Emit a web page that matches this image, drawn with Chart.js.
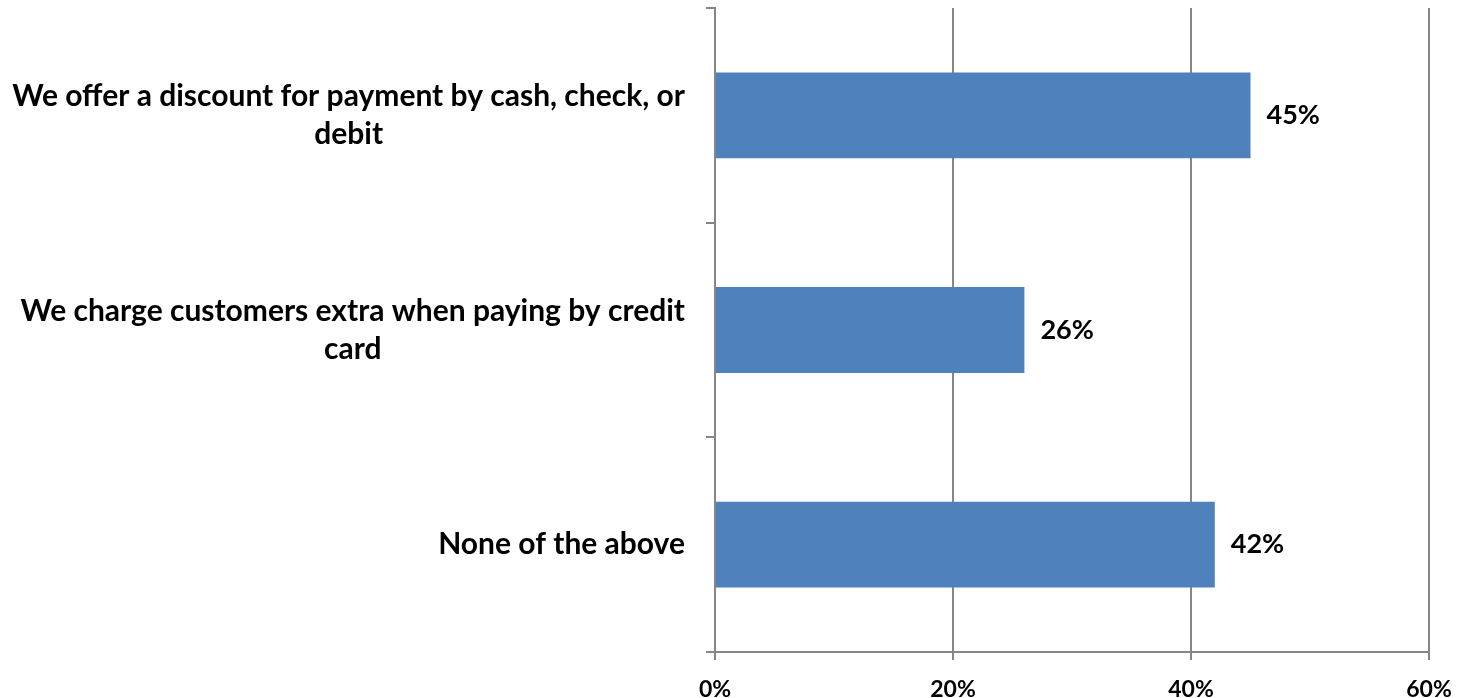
<!DOCTYPE html>
<html>
<head>
<meta charset="utf-8">
<script src="https://cdn.jsdelivr.net/npm/chart.js@4.4.0/dist/chart.umd.min.js"></script>
<style>
  html, body { margin: 0; padding: 0; background: #fff; }
  #wrap { width: 1460px; height: 698px; }
</style>
</head>
<body>
<div id="wrap"><canvas id="bar-chart"></canvas></div>
<script>
// survey answers, top to bottom
var categories = [
  ["We offer a discount for payment by cash, check, or", "debit"],
  ["We charge customers extra when paying by credit", "card"],
  ["None of the above"]
];
var shares = [45, 26, 42];
var xTicks = [0, 20, 40, 60];

var barColor = "#4F81BD";
var axisColor = "#868686";
var fontFamily = "Lato, 'Open Sans', sans-serif";

// category names: right edge against the axis, lines of one label centred on each other
var categoryLabels = {
  id: "categoryLabels",
  afterDraw: function (chart) {
    var ctx = chart.ctx;
    var y = chart.scales.y;
    var lineH = 38;
    ctx.save();
    ctx.font = "bold 30px " + fontFamily;
    ctx.fillStyle = "#000";
    ctx.textAlign = "center";
    ctx.textBaseline = "middle";
    categories.forEach(function (lines, i) {
      var widest = Math.max.apply(null, lines.map(function (s) { return ctx.measureText(s).width; }));
      var cx = y.right - 30 - widest / 2;
      var cy = y.getPixelForTick(i) - (lines.length - 1) * lineH / 2;
      lines.forEach(function (s, k) {
        ctx.fillText(s, cx, cy + k * lineH);
      });
    });
    ctx.restore();
  }
};

// writes the percentage just past the end of each bar
var valueLabels = {
  id: "valueLabels",
  afterDatasetsDraw: function (chart) {
    var ctx = chart.ctx;
    var meta = chart.getDatasetMeta(0);
    ctx.save();
    ctx.font = "bold 27px " + fontFamily;
    ctx.fillStyle = "#000";
    ctx.textAlign = "left";
    ctx.textBaseline = "middle";
    meta.data.forEach(function (bar, i) {
      ctx.fillText(shares[i] + "%", bar.x + 16, bar.y);
    });
    ctx.restore();
  }
};

var barChart = new Chart(document.getElementById("bar-chart"), {
  type: "bar",
  data: {
    labels: categories,
    datasets: [{
      data: shares,
      backgroundColor: barColor,
      borderWidth: 0,
      categoryPercentage: 1,
      barPercentage: 0.4
    }]
  },
  options: {
    indexAxis: "y",
    responsive: true,
    maintainAspectRatio: false,
    animation: false,
    layout: { padding: { top: 8, right: 31, left: 0, bottom: 0 } },
    plugins: {
      legend: { display: false },
      tooltip: { enabled: false }
    },
    scales: {
      x: {
        min: 0,
        max: 60,
        afterBuildTicks: function (axis) {
          axis.ticks = xTicks.map(function (v) { return { value: v }; });
        },
        afterFit: function (axis) {
          axis.height = 46;
          axis.paddingLeft = 0;
          axis.paddingRight = 0;
        },
        border: { color: axisColor, width: 2 },
        grid: { color: axisColor, lineWidth: 2, tickLength: 8 },
        ticks: {
          color: "#000",
          padding: 16,
          font: { family: fontFamily, size: 23, weight: "bold" },
          callback: function (v) { return v + "%"; }
        }
      },
      y: {
        afterFit: function (axis) {
          axis.width = 715;
          axis.paddingTop = 0;
          axis.paddingBottom = 0;
        },
        border: { color: axisColor, width: 2 },
        grid: {
          offset: true,
          drawOnChartArea: false,
          color: axisColor,
          lineWidth: 2,
          tickLength: 9
        },
        ticks: { display: false }
      }
    }
  },
  plugins: [valueLabels, categoryLabels]
});
</script>
</body>
</html>
